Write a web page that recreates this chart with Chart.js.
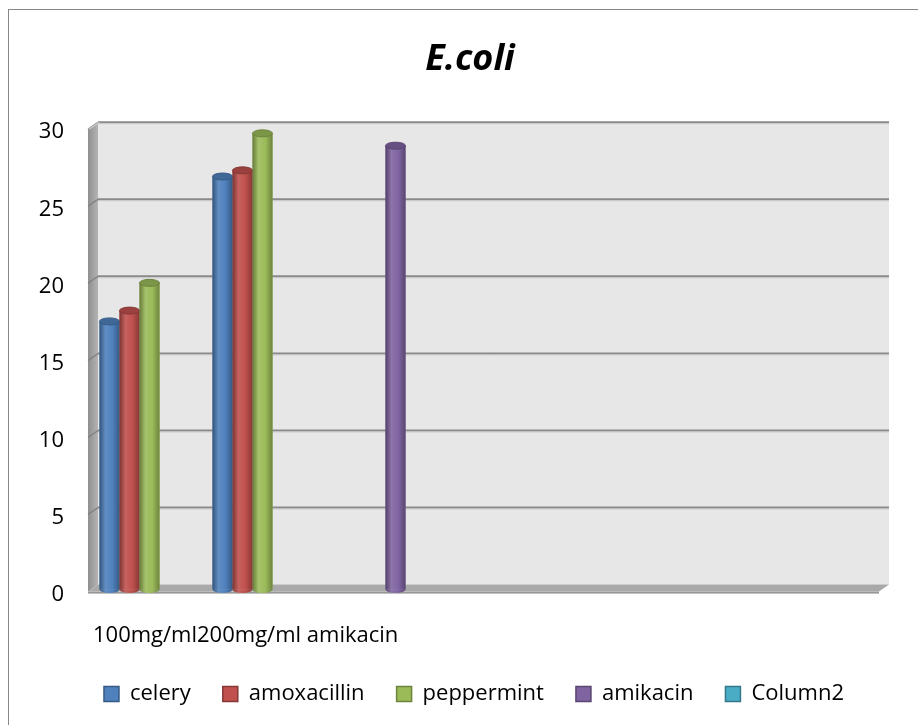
<!DOCTYPE html>
<html>
<head>
<meta charset="utf-8">
<title>E.coli</title>
<script src="https://cdn.jsdelivr.net/npm/chart.js@4.4.1/dist/chart.umd.min.js"></script>
<style>
  html, body { margin: 0; padding: 0; background: #fff; overflow: hidden; }
  #wrap { position: relative; width: 918px; height: 725px; }
  #frame { position: absolute; left: 8px; top: 9px; width: 1000px; height: 1000px;
           border-left: 1px solid #878787; border-top: 1px solid #878787; }
  canvas { position: absolute; left: 0; top: 0; }
</style>
</head>
<body>
<div id="wrap">
  <div id="frame"></div>
  <canvas id="ecoliChart" width="918" height="725"></canvas>
</div>
<script>
// categories (Excel squeezes the labels together at the left)
const categories = ['100mg/ml', '200mg/ml ', 'amikacin', '', '', '', ''];
const yTicks = [0, 5, 10, 15, 20, 25, 30];

// series values
const celery      = [17.4, 26.8];
const amoxacillin = [18.1, 27.2];
const peppermint  = [19.9, 29.6];
const amikacin    = [null, null, 28.8];
const column2     = [];

const seriesNames  = ['celery', 'amoxacillin', 'peppermint', 'amikacin', 'Column2'];
const seriesValues = [celery, amoxacillin, peppermint, amikacin, column2];
const seriesColors = ['#4f81bd', '#c0504d', '#9bbb59', '#8064a2', '#4bacc6'];

const FONT = '"Open Sans", "Noto Sans", sans-serif';

function shade(hex, f) {
    const n = parseInt(hex.slice(1), 16);
    let r = (n >> 16) & 255, g = (n >> 8) & 255, b = n & 255;
    if (f < 0) {
        r = r * (1 + f); g = g * (1 + f); b = b * (1 + f);
    } else {
        r = r + (255 - r) * f; g = g + (255 - g) * f; b = b + (255 - b) * f;
    }
    return `rgb(${Math.round(r)},${Math.round(g)},${Math.round(b)})`;
}

// --- 3D walls: back wall, left wall, floor and gridlines ---
const DEPTH_BACK = { dx: 5, dy: -5 };
const DEPTH_FRONT = { dx: -5, dy: 2 };

const wallsPlugin = {
    id: 'walls',
    afterLayout(chart) {
        // Excel centres title and legend a little further right
        if (chart.legend) { chart.legend.left += 17; chart.legend.right += 17; }
        if (chart.titleBlock) { chart.titleBlock.left += 13; chart.titleBlock.right += 13; }
    },
    beforeDatasetsDraw(chart) {
        const ctx = chart.ctx;
        const ca = chart.chartArea;
        const yScale = chart.scales.y;
        const y0 = yScale.getPixelForValue(0);
        const yTop = yScale.getPixelForValue(yTicks[yTicks.length - 1]);
        const bx = DEPTH_BACK.dx, by = DEPTH_BACK.dy;
        const fx = DEPTH_FRONT.dx, fy = DEPTH_FRONT.dy;
        ctx.save();

        // back wall
        ctx.fillStyle = '#e7e7e7';
        ctx.fillRect(ca.left + bx, yTop + by, ca.right - ca.left, y0 - yTop);

        // left wall
        const lg = ctx.createLinearGradient(ca.left + fx, 0, ca.left + bx, 0);
        lg.addColorStop(0, '#8f8f8f');
        lg.addColorStop(1, '#b4b4b4');
        ctx.fillStyle = lg;
        ctx.beginPath();
        ctx.moveTo(ca.left + fx, yTop + fy);
        ctx.lineTo(ca.left + bx, yTop + by);
        ctx.lineTo(ca.left + bx, y0 + by);
        ctx.lineTo(ca.left + fx, y0 + fy);
        ctx.closePath();
        ctx.fill();

        // gridlines on back wall and left wall
        yTicks.forEach(v => {
            if (v === 0) return;
            const y = yScale.getPixelForValue(v);
            ctx.strokeStyle = '#8a8a8a';
            ctx.lineWidth = 2;
            ctx.beginPath();
            ctx.moveTo(ca.left + bx, y + by);
            ctx.lineTo(ca.right + bx, y + by);
            ctx.stroke();
            ctx.strokeStyle = '#c9c9c9';
            ctx.lineWidth = 1;
            ctx.beginPath();
            ctx.moveTo(ca.left + bx, y + by + 1.5);
            ctx.lineTo(ca.right + bx, y + by + 1.5);
            ctx.stroke();
            ctx.strokeStyle = '#7d7d7d';
            ctx.lineWidth = 1.2;
            ctx.beginPath();
            ctx.moveTo(ca.left + fx, y + fy);
            ctx.lineTo(ca.left + bx, y + by);
            ctx.stroke();
        });

        // top bevel of left wall
        ctx.fillStyle = '#d0d0d0';
        ctx.beginPath();
        ctx.moveTo(ca.left + fx, yTop + fy);
        ctx.lineTo(ca.left + bx, yTop + by);
        ctx.lineTo(ca.left + bx + 2, yTop + by);
        ctx.lineTo(ca.left + fx + 2, yTop + fy);
        ctx.closePath();
        ctx.fill();

        // floor
        ctx.fillStyle = '#a9a9a9';
        ctx.beginPath();
        ctx.moveTo(ca.left + bx, y0 + by);
        ctx.lineTo(ca.right + bx, y0 + by);
        ctx.lineTo(ca.right + fx, y0 + fy);
        ctx.lineTo(ca.left + fx, y0 + fy);
        ctx.closePath();
        ctx.fill();
        ctx.fillStyle = '#979797';
        ctx.fillRect(ca.left + fx, y0 + fy, ca.right - ca.left, 2);
        ctx.restore();
    }
};

// --- cylinder shading drawn over the library's bar elements ---
const cylinderPlugin = {
    id: 'cylinders',
    afterDatasetsDraw(chart) {
        const ctx = chart.ctx;
        ctx.save();
        chart.data.datasets.forEach((ds, i) => {
            const meta = chart.getDatasetMeta(i);
            if (meta.hidden) return;
            const base = seriesColors[i];
            meta.data.forEach((bar, j) => {
                const v = ds.data[j];
                if (v === null || v === undefined) return;
                const p = bar.getProps(['x', 'y', 'base', 'width'], true);
                const left = p.x - p.width / 2;
                const rx = p.width / 2, ry = 3.5;
                const g = ctx.createLinearGradient(left, 0, left + p.width, 0);
                g.addColorStop(0, shade(base, -0.35));
                g.addColorStop(0.3, shade(base, 0.1));
                g.addColorStop(0.65, base);
                g.addColorStop(1, shade(base, -0.3));
                ctx.fillStyle = g;
                ctx.fillRect(left, p.y, p.width, p.base - p.y);
                ctx.beginPath();
                ctx.ellipse(p.x, p.base, rx, ry, 0, 0, Math.PI);
                ctx.fill();
                // top cap
                ctx.fillStyle = shade(base, -0.2);
                ctx.beginPath();
                ctx.ellipse(p.x, p.y, rx, ry, 0, 0, Math.PI * 2);
                ctx.fill();
                ctx.strokeStyle = shade(base, -0.3);
                ctx.lineWidth = 1;
                ctx.stroke();
            });
        });
        ctx.restore();
    }
};

const ctx = document.getElementById('ecoliChart');
new Chart(ctx, {
    type: 'bar',
    data: {
        labels: categories,
        datasets: seriesNames.map((name, i) => ({
            label: name,
            data: seriesValues[i],
            backgroundColor: seriesColors[i],
            borderColor: shade(seriesColors[i], -0.3),
            borderWidth: 0,
            categoryPercentage: 0.885,
            barPercentage: 1
        }))
    },
    options: {
        responsive: false,
        animation: false,
        layout: { padding: { top: 0, right: 34, bottom: 10, left: 30 } },
        scales: {
            x: {
                grid: { display: false, drawTicks: false },
                border: { display: false },
                ticks: { display: false },
                title: {
                    display: true,
                    text: categories.join(''),
                    align: 'start',
                    color: '#000',
                    font: { family: FONT, size: 22 },
                    padding: { top: 33, bottom: 2 }
                }
            },
            y: {
                min: 0,
                max: 30,
                afterFit(scale) { scale.width = 63; },
                afterBuildTicks(scale) { scale.ticks = yTicks.map(v => ({ value: v })); },
                grid: { display: false, drawTicks: false },
                border: { display: false },
                ticks: {
                    color: '#000',
                    padding: 29,
                    labelOffset: 5,
                    font: { family: FONT, size: 22 }
                }
            }
        },
        plugins: {
            title: {
                display: true,
                text: 'E.coli',
                color: '#000',
                font: { family: FONT, size: 36, weight: 'bold', style: 'italic' },
                padding: { top: 38, bottom: 46 }
            },
            legend: {
                position: 'bottom',
                labels: {
                    color: '#000',
                    font: { family: FONT, size: 22 },
                    boxWidth: 15,
                    boxHeight: 15,
                    padding: 32,
                    generateLabels(chart) {
                        const items = Chart.defaults.plugins.legend.labels.generateLabels(chart);
                        items.forEach((it, i) => {
                            it.strokeStyle = shade(seriesColors[i], -0.3);
                            it.lineWidth = 1.5;
                        });
                        return items;
                    }
                }
            },
            tooltip: { enabled: false }
        }
    },
    plugins: [wallsPlugin, cylinderPlugin]
});
</script>
</body>
</html>
